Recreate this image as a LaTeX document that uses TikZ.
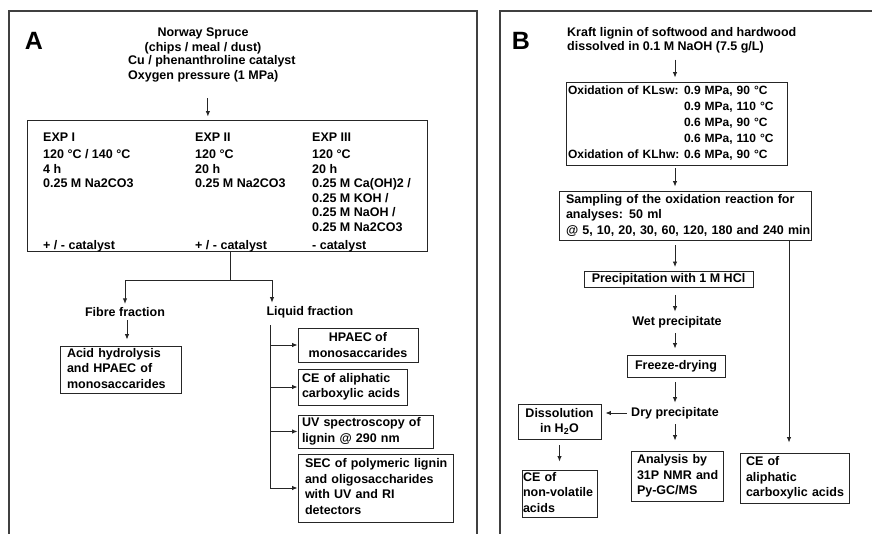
\documentclass[tikz,border=0pt]{standalone}
\usepackage{fontspec}
\setmainfont{Liberation Sans}
\usetikzlibrary{shapes,arrows.meta,positioning,calc}

\tikzset{
    box/.style={rectangle,draw=black!85,line width=0.9pt,inner ysep=0pt,align=left},
    cbox/.style={rectangle,draw=black!85,line width=0.9pt,inner sep=0pt,align=center},
    lbl/.style={inner sep=2pt,align=left},
    tight/.style={font=\fontsize{12.5}{14.5}\selectfont\bfseries},
    arr/.style={->,line width=0.9pt,draw=black!85},
    panelframe/.style={line width=1.3pt,draw=black!75},
    biglabel/.style={font=\fontsize{25}{25}\selectfont\bfseries}
}

\begin{document}
\begin{tikzpicture}[x=1pt,y=-1pt,>={Latex[length=5.5pt,width=4.5pt]},
    every node/.style={font=\fontsize{12.5}{15.5}\selectfont\bfseries}]
    \useasboundingbox (0,0) rectangle (872,534);

    % Panels
    \draw[panelframe] (9,534) -- (9,11) -- (477,11) -- (477,534);
    \draw[panelframe] (500,534) -- (500,11) -- (872,11);

    % ---- A ----
    \node[biglabel] (labA) at (34,41) {A};
    \node[tight,align=center] (spruce) at (203,41) {Norway Spruce\\(chips / meal / dust)};
    \node[tight,lbl,anchor=west] (cond) at (126,69) {Cu / phenanthroline catalyst\\Oxygen pressure (1 MPa)};

    % Experiments
    \node[rectangle,draw=black!85,line width=0.9pt,minimum width=400pt,minimum height=131pt] (exp) at (227,185.5) {};
    \node[tight,lbl,anchor=north west] (exp1) at (41,131) {EXP I\\[2.5pt]120 °C / 140 °C\\4 h\\0.25 M Na2CO3};
    \node[tight,lbl,anchor=north west] (exp2) at (193,131) {EXP II\\[2.5pt]120 °C\\20 h\\0.25 M Na2CO3};
    \node[tight,lbl,anchor=north west] (exp3) at (310,131) {EXP III\\[2.5pt]120 °C\\20 h\\0.25 M Ca(OH)2 /\\0.25 M KOH /\\0.25 M NaOH /\\0.25 M Na2CO3};
    \node[tight,lbl,anchor=west] (cat1) at (41,246) {+ / - catalyst};
    \node[tight,lbl,anchor=west] (cat2) at (193,246) {+ / - catalyst};
    \node[tight,lbl,anchor=west] (cat3) at (310,246) {- catalyst};

    \draw[arr,shorten <=14pt,shorten >=3pt] ([xshift=-4pt]cond.south) -- ([xshift=-4pt]cond.south |- exp.north);

    % Fractions
    \coordinate (split) at (230,280);
    \node (fibre) at (125,312) {Fibre fraction};
    \node[anchor=west] (liquid) at (263,312) {Liquid fraction};
    \draw[line width=0.9pt,draw=black!85] (exp.south -| split) -- (split);
    \draw[arr] (split) -| (fibre.north);
    \draw[arr] (split) -| ([xshift=9pt]liquid.north west);

    \node[box,text width=107pt,inner xsep=7pt,minimum height=47pt] (acid) at (120.5,369.5) {
        \begin{tabular}{@{}l@{}}
        Acid hydrolysis \\
        and HPAEC of \\
        monosaccarides
        \end{tabular}
    };
    \draw[arr,shorten >=6pt] ([xshift=2pt]fibre.south) -- ([xshift=2pt]fibre.south |- acid.north);

    % Liquid analyses
    \node[cbox,minimum width=120pt,minimum height=34pt] (hpaec) at (358,345) {HPAEC of\\monosaccarides};
    \node[box,text width=101pt,inner xsep=4pt,minimum height=36pt] (cealiph) at (352.5,387) {
        \begin{tabular}{@{}l@{}}
        CE of aliphatic \\
        carboxylic acids
        \end{tabular}
    };
    \node[box,text width=127pt,inner xsep=4pt,minimum height=33pt] (uvspec) at (365.5,431.5) {
        \begin{tabular}{@{}l@{}}
        UV spectroscopy of \\
        lignin @ 290 nm
        \end{tabular}
    };
    \node[box,text width=141pt,inner xsep=7pt,minimum height=68pt] (sec) at (375.5,488) {
        \begin{tabular}{@{}l@{}}
        SEC of polymeric lignin \\
        and oligosaccharides \\
        with UV and RI \\
        detectors
        \end{tabular}
    };

    \coordinate (ltrunk) at (270,325);
    \draw[arr] (ltrunk) |- (sec.west);
    \foreach \b in {hpaec,cealiph,uvspec}
        \draw[arr] (ltrunk |- \b.west) -- (\b.west);

    % ---- B ----
    \node[biglabel] (labB) at (521,41) {B};
    \node[tight,lbl,anchor=north west] (kraft) at (565,25) {Kraft lignin of softwood and hardwood\\dissolved in 0.1 M NaOH (7.5 g/L)};

    \node[box,text width=217pt,inner xsep=2pt,minimum height=83pt,font=\fontsize{12}{16}\selectfont\bfseries] (oxid) at (676.5,123.5) {
        \begin{tabular}{@{}p{116pt}@{}l@{}}
        Oxidation of KLsw: & 0.9 MPa, 90 °C \\
                           & 0.9 MPa, 110 °C \\
                           & 0.6 MPa, 90 °C \\
                           & 0.6 MPa, 110 °C \\
        Oxidation of KLhw: & 0.6 MPa, 90 °C
        \end{tabular}
    };
    \node[box,text width=238pt,inner xsep=7pt,minimum height=49pt] (samp) at (685,215.5) {
        \begin{tabular}{@{}l@{}}
        Sampling of the oxidation reaction for \\
        analyses: 50 ml \\
        @ 5, 10, 20, 30, 60, 120, 180 and 240 min
        \end{tabular}
    };
    \node[cbox,minimum width=169pt,minimum height=16pt] (precip) at (668.5,279.5) {Precipitation with 1 M HCl};
    \node (wet) at (677,322) {Wet precipitate};
    \node[cbox,minimum width=98pt,minimum height=22pt] (freeze) at (676,366) {Freeze-drying};
    \node (dry) at (675,413) {Dry precipitate};
    \node[cbox,minimum width=83pt,minimum height=35pt] (dissol) at (559.5,421.5) {Dissolution\\in H\textsubscript{2}O};
    \node[box,text width=73pt,inner xsep=1pt,minimum height=47pt] (cenv) at (559.5,493.5) {
        \begin{tabular}{@{}l@{}}
        CE of \\
        non-volatile \\
        acids
        \end{tabular}
    };
    \node[box,text width=80pt,inner xsep=6pt,minimum height=50pt] (analysis) at (677,476) {
        \begin{tabular}{@{}l@{}}
        Analysis by \\
        31P NMR and \\
        Py-GC/MS
        \end{tabular}
    };
    \node[box,text width=97pt,inner xsep=6pt,minimum height=50pt] (ceal) at (794.5,478) {
        \begin{tabular}{@{}l@{}}
        CE of \\
        aliphatic \\
        carboxylic acids
        \end{tabular}
    };

    % Arrows
    \coordinate (mainx) at (675,0);
    \coordinate (sidex) at (789,0);
    \draw[arr,shorten <=4pt,shorten >=4pt] (kraft.south -| mainx) -- (oxid.north -| mainx);
    \draw[arr,shorten <=3pt,shorten >=4pt] (oxid.south -| mainx) -- (samp.north -| mainx);
    \draw[arr,shorten <=5pt,shorten >=4pt] (samp.south -| mainx) -- (precip.north -| mainx);
    \draw[arr,shorten <=7pt,shorten >=1pt] (precip.south -| mainx) -- (wet.north -| mainx);
    \draw[arr,shorten <=2pt,shorten >=6pt] (wet.south -| mainx) -- (freeze.north -| mainx);
    \draw[arr,shorten <=5pt,shorten >=1pt] (freeze.south -| mainx) -- (dry.north -| mainx);
    \draw[arr,shorten <=1pt,shorten >=4pt] (dry.west) -- (dry.west -| dissol.east);
    \draw[arr,shorten <=6pt,shorten >=8pt] (dissol.south) -- (dissol.south |- cenv.north);
    \draw[arr,shorten <=2pt,shorten >=10pt] (dry.south -| mainx) -- (analysis.north -| mainx);
    \draw[arr,shorten >=10pt] (samp.south -| sidex) -- (ceal.north -| sidex);
\end{tikzpicture}
\end{document}
